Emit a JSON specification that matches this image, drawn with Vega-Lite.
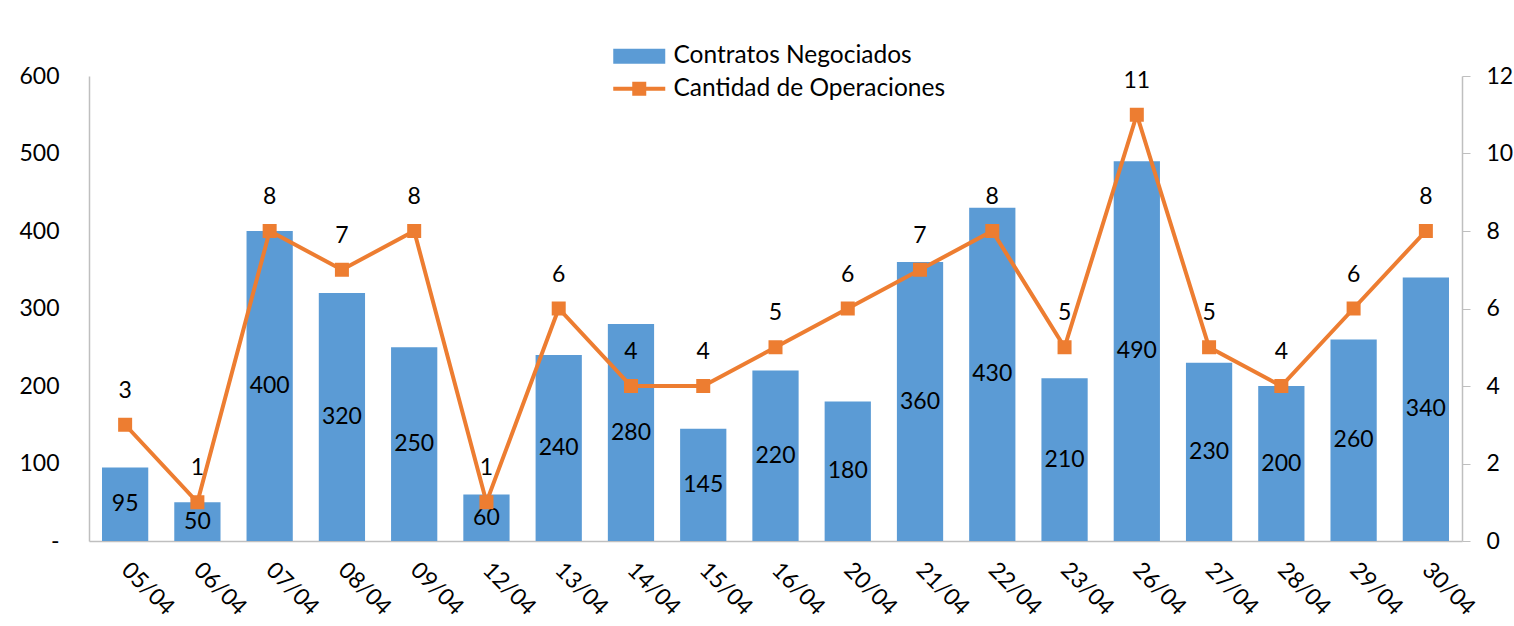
{
  "$schema": "https://vega.github.io/schema/vega-lite/v6.json",
  "autosize": {"type": "none"},
  "width": 1373,
  "height": 465,
  "padding": {"left": 89, "top": 76, "right": 52, "bottom": 85},
  "background": "white",
  "config": {
    "view": {"stroke": null},
    "font": "Lato",
    "axis": {"grid": false, "labelFont": "Lato", "labelFontSize": 23, "labelColor": "black", "domainColor": "#BFBFBF", "domainWidth": 1.5, "tickColor": "#BFBFBF", "titleFontSize": 0}
  },
  "data": {"values": [
    {"fecha": "05/04", "contratos": 95, "operaciones": 3},
    {"fecha": "06/04", "contratos": 50, "operaciones": 1},
    {"fecha": "07/04", "contratos": 400, "operaciones": 8},
    {"fecha": "08/04", "contratos": 320, "operaciones": 7},
    {"fecha": "09/04", "contratos": 250, "operaciones": 8},
    {"fecha": "12/04", "contratos": 60, "operaciones": 1},
    {"fecha": "13/04", "contratos": 240, "operaciones": 6},
    {"fecha": "14/04", "contratos": 280, "operaciones": 4},
    {"fecha": "15/04", "contratos": 145, "operaciones": 4},
    {"fecha": "16/04", "contratos": 220, "operaciones": 5},
    {"fecha": "20/04", "contratos": 180, "operaciones": 6},
    {"fecha": "21/04", "contratos": 360, "operaciones": 7},
    {"fecha": "22/04", "contratos": 430, "operaciones": 8},
    {"fecha": "23/04", "contratos": 210, "operaciones": 5},
    {"fecha": "26/04", "contratos": 490, "operaciones": 11},
    {"fecha": "27/04", "contratos": 230, "operaciones": 5},
    {"fecha": "28/04", "contratos": 200, "operaciones": 4},
    {"fecha": "29/04", "contratos": 260, "operaciones": 6},
    {"fecha": "30/04", "contratos": 340, "operaciones": 8}
  ]},
  "encoding": {
    "x": {"field": "fecha", "type": "nominal", "sort": null,
      "scale": {"paddingInner": 0.36, "paddingOuter": 0.18},
      "axis": {"title": null, "labelAngle": 45, "labelAlign": "left", "labelBaseline": "middle", "labelPadding": 25, "ticks": false, "domainColor": "#BFBFBF"}}
  },
  "layer": [
    {
      "layer": [
        {
          "mark": {"type": "bar", "color": "#5B9BD5"},
          "encoding": {
            "y": {"field": "contratos", "type": "quantitative",
              "scale": {"domain": [0, 600]},
              "axis": {"title": null, "values": [0, 100, 200, 300, 400, 500, 600], "ticks": false,
                "labelPadding": 30,
                "labelExpr": "datum.value == 0 ? '-\u2002\u2009' : datum.label", "orient": "left"}},
            "color": {"datum": "Contratos Negociados", "type": "nominal",
              "scale": {"domain": ["Contratos Negociados", "Cantidad de Operaciones"], "range": ["#5B9BD5", "#ED7D31"]},
              "legend": {
                "title": null, "orient": "none", "legendX": 538, "legendY": -32,
                "labelFontSize": 24.5, "labelFont": "Lato", "labelColor": "black", "labelLimit": 400,
                "symbolSize": 400, "labelOffset": 22, "rowPadding": 7.5,
                "encode": {"symbols": {"update": {
                  "shape": {"signal": "datum.value === 'Contratos Negociados' ? 'M-2.6,-0.75H2.6V0.75H-2.6Z' : 'M-2.6,-0.2H-0.7V-0.7H0.7V-0.2H2.6V0.2H0.7V0.7H-0.7V0.2H-2.6Z'"},
                  "fill": {"signal": "datum.value === 'Contratos Negociados' ? '#5B9BD5' : '#ED7D31'"},
                  "stroke": {"value": "transparent"},
                  "strokeWidth": {"value": 0},
                  "opacity": {"value": 1},
                  "fillOpacity": {"value": 1}
                }}}
              }}
          }
        },
        {
          "transform": [{"calculate": "datum.contratos / 2", "as": "mitad"}],
          "mark": {"type": "text", "fontSize": 23, "font": "Lato", "color": "black"},
          "encoding": {
            "y": {"field": "mitad", "type": "quantitative", "scale": {"domain": [0, 600]}},
            "text": {"field": "contratos", "type": "quantitative"}
          }
        }
      ]
    },
    {
      "layer": [
        {
          "mark": {"type": "line", "strokeWidth": 4, "point": {"filled": true, "shape": "square", "size": 196, "opacity": 1}},
          "encoding": {
            "y": {"field": "operaciones", "type": "quantitative",
              "scale": {"domain": [0, 12]},
              "axis": {"title": null, "orient": "right", "values": [0, 2, 4, 6, 8, 10, 12], "ticks": true, "tickSize": 8, "labelPadding": 16}},
            "color": {"datum": "Cantidad de Operaciones", "type": "nominal"}
          }
        },
        {
          "mark": {"type": "text", "fontSize": 23, "font": "Lato", "color": "black", "dy": -34},
          "encoding": {
            "y": {"field": "operaciones", "type": "quantitative", "scale": {"domain": [0, 12]}},
            "text": {"field": "operaciones", "type": "quantitative"}
          }
        }
      ]
    }
  ],
  "resolve": {"scale": {"y": "independent"}}
}
